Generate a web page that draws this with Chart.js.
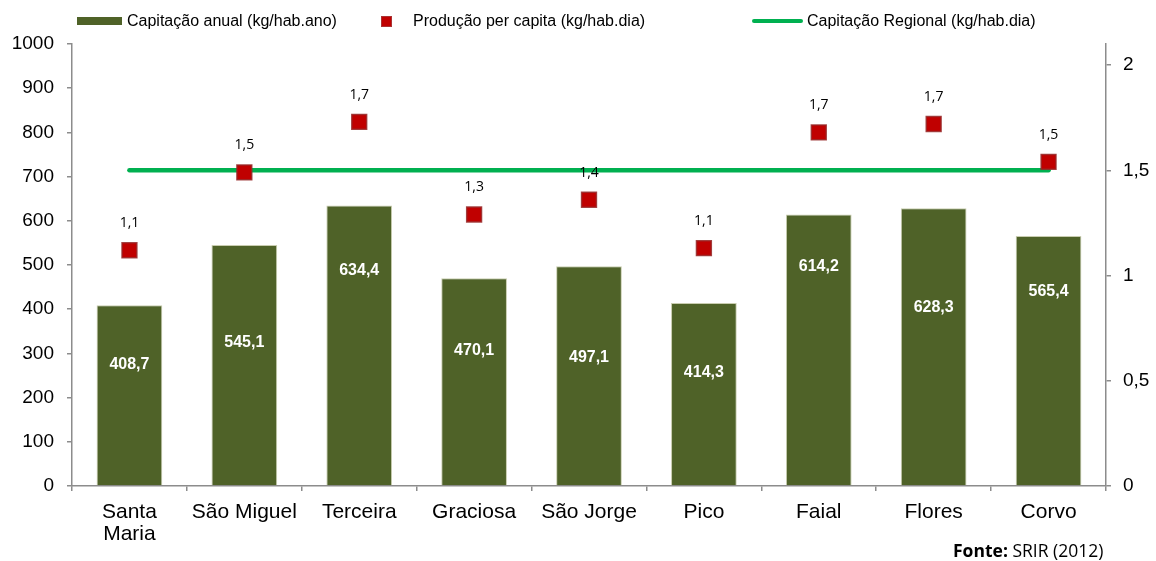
<!DOCTYPE html>
<html lang="pt">
<head>
    <meta charset="UTF-8">
    <title>Capitação de resíduos por ilha</title>
    <script src="https://cdn.jsdelivr.net/npm/chart.js"></script>
    <style>
        body { margin: 0; background: #fff; }
        .wrap { position: relative; width: 1156px; height: 561px; font-family: "Liberation Sans", Arial, sans-serif; }
        .leg { position: absolute; font-size: 16px; line-height: 18px; color: #000; white-space: nowrap; }
        .sw { position: absolute; }
        .fonte { position: absolute; left: 953px; top: 539px; font-family: "Open Sans", sans-serif; font-size: 17.5px; line-height: 22px; color: #000; white-space: nowrap; }
    </style>
</head>
<body>
<div class="wrap">
    <canvas id="chart" width="1156" height="561"></canvas>

    <!-- legend -->
    <div class="sw" style="left:77px;top:17px;width:45px;height:8px;background:#4F6228;"></div>
    <div class="leg" style="left:127px;top:12px;">Capitação anual (kg/hab.ano)</div>
    <div class="sw" style="left:381px;top:16px;width:9px;height:9px;background:#C00000;border:1px solid #a33;"></div>
    <div class="leg" style="left:413px;top:12px;">Produção per capita (kg/hab.dia)</div>
    <div class="sw" style="left:752px;top:19px;width:51px;height:4px;background:#00B050;border-radius:2px;"></div>
    <div class="leg" style="left:807px;top:12px;">Capitação Regional (kg/hab.dia)</div>

    <div class="fonte"><b>Fonte:</b> SRIR (2012)</div>
</div>
<script>
// data
const islands = [['Santa', 'Maria'], 'São Miguel', 'Terceira', 'Graciosa', 'São Jorge', 'Pico', 'Faial', 'Flores', 'Corvo'];
const capitacaoAnual = [408.7, 545.1, 634.4, 470.1, 497.1, 414.3, 614.2, 628.3, 565.4];
const producaoPerCapita = [1.12, 1.49, 1.73, 1.29, 1.36, 1.13, 1.68, 1.72, 1.54];
const capitacaoRegional = [1.5, 1.5, 1.5, 1.5, 1.5, 1.5, 1.5, 1.5, 1.5];
const leftTicks = [0, 100, 200, 300, 400, 500, 600, 700, 800, 900, 1000];
const rightTicks = [0, 0.5, 1, 1.5, 2];

const comma = (v, d) => v.toFixed(d).replace('.', ',');
const axisGrey = '#8c8c8c';

// how far below the bar top each white value label sits (as in the original)
const barLabelDrop = [59, 98, 65, 72, 91, 70, 52, 99, 56];

const valueLabels = {
    id: 'valueLabels',
    afterDatasetsDraw(chart) {
        const ctx = chart.ctx;
        ctx.save();
        ctx.textAlign = 'center';
        ctx.textBaseline = 'middle';

        // bar values
        ctx.font = 'bold 16px "Liberation Sans", Arial, sans-serif';
        ctx.fillStyle = '#fff';
        chart.getDatasetMeta(0).data.forEach((bar, i) => {
            ctx.fillText(comma(capitacaoAnual[i], 1), bar.x, bar.y + barLabelDrop[i]);
        });

        // per capita values
        ctx.font = '14px "Open Sans", sans-serif';
        ctx.fillStyle = '#000';
        chart.getDatasetMeta(1).data.forEach((pt, i) => {
            ctx.fillText(comma(producaoPerCapita[i], 1), pt.x, pt.y - 27);
        });
        ctx.restore();
    }
};

const ctx = document.getElementById('chart').getContext('2d');
new Chart(ctx, {
    data: {
        labels: islands,
        datasets: [
            {
                type: 'bar',
                label: 'Capitação anual (kg/hab.ano)',
                data: capitacaoAnual,
                backgroundColor: '#4F6228',
                borderColor: '#c9cdb0',
                borderWidth: 1,
                barPercentage: 0.572,
                categoryPercentage: 1,
                yAxisID: 'y',
                order: 3
            },
            {
                type: 'line',
                label: 'Produção per capita (kg/hab.dia)',
                data: producaoPerCapita,
                showLine: false,
                pointStyle: 'rect',
                pointRadius: 10.5,
                pointBackgroundColor: '#C00000',
                pointBorderColor: 'rgba(150,40,40,0.85)',
                pointBorderWidth: 1.5,
                yAxisID: 'y1',
                order: 1
            },
            {
                type: 'line',
                label: 'Capitação Regional (kg/hab.dia)',
                data: capitacaoRegional,
                borderColor: '#00B050',
                borderWidth: 4.5,
                borderCapStyle: 'round',
                pointRadius: 0,
                fill: false,
                yAxisID: 'y1',
                order: 2
            }
        ]
    },
    options: {
        responsive: false,
        animation: false,
        layout: { padding: { top: 44, left: 0, right: 0, bottom: 0 } },
        plugins: {
            legend: { display: false },
            tooltip: { enabled: false }
        },
        scales: {
            x: {
                type: 'category',
                offset: true,
                grid: { display: true, drawOnChartArea: false, offset: true, color: axisGrey, lineWidth: 1.5, tickLength: 5 },
                border: { color: axisGrey, width: 1.5 },
                ticks: {
                    color: '#000',
                    font: { family: '"Liberation Sans", Arial, sans-serif', size: 21, lineHeight: 1.06 },
                    padding: 10,
                    maxRotation: 0,
                    autoSkip: false
                },
                afterFit(scale) { scale.height = 75; }
            },
            y: {
                position: 'left',
                min: 0,
                max: 1000,
                grid: { display: true, drawOnChartArea: false, color: axisGrey, lineWidth: 1.5, tickLength: 5 },
                border: { color: axisGrey, width: 1.5 },
                afterBuildTicks(scale) { scale.ticks = leftTicks.map(v => ({ value: v })); },
                ticks: {
                    color: '#000',
                    font: { family: '"Liberation Sans", Arial, sans-serif', size: 19 },
                    padding: 13,
                    callback: v => String(v)
                },
                afterFit(scale) { scale.width = 72; }
            },
            y1: {
                position: 'right',
                min: 0,
                max: 2.1,
                grid: { display: true, drawOnChartArea: false, color: axisGrey, lineWidth: 1.5, tickLength: 5 },
                border: { color: axisGrey, width: 1.5 },
                afterBuildTicks(scale) { scale.ticks = rightTicks.map(v => ({ value: v })); },
                ticks: {
                    color: '#000',
                    font: { family: '"Liberation Sans", Arial, sans-serif', size: 19 },
                    padding: 12,
                    callback: v => String(v).replace('.', ',')
                },
                afterFit(scale) { scale.width = 50; }
            }
        }
    },
    plugins: [valueLabels]
});
</script>
</body>
</html>
